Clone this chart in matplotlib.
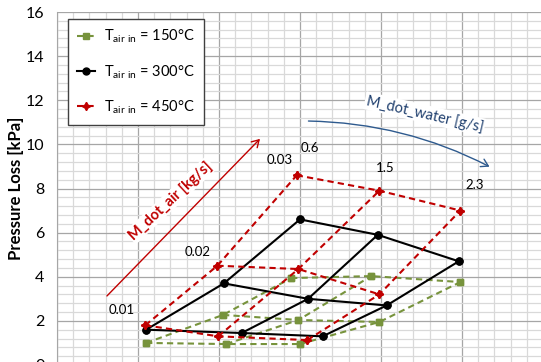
import matplotlib
matplotlib.use("Agg")
import matplotlib.pyplot as plt
from matplotlib.patches import FancyArrowPatch
from matplotlib.lines import Line2D
import numpy as np

plt.rcParams['font.family'] = ['Lato', 'DejaVu Sans']

# carpet data: rows = M_dot_water (0.6, 1.5, 2.3 g/s), cols = M_dot_air (0.01, 0.02, 0.03 kg/s)
water_labels = ["0.6", "1.5", "2.3"]
air_labels = ["0.01", "0.02", "0.03"]

x_150 = [[1.10, 2.05, 2.89], [2.09, 2.98, 3.88], [3.00, 3.98, 4.98]]
y_150 = [[1.00, 2.27, 3.94], [0.95, 2.04, 4.03], [0.95, 1.95, 3.76]]

x_300 = [[1.10, 2.06, 3.00], [2.28, 3.10, 3.96], [3.28, 4.07, 4.96]]
y_300 = [[1.60, 3.70, 6.60], [1.45, 3.00, 5.90], [1.30, 2.70, 4.70]]

x_450 = [[1.09, 1.98, 2.96], [1.99, 2.98, 3.98], [3.09, 3.98, 4.98]]
y_450 = [[1.80, 4.50, 8.60], [1.30, 4.35, 7.90], [1.13, 3.20, 7.00]]

series = [
    (x_150, y_150, r'T$_{\mathregular{air\ in}}$ = 150°C', '#77933C', '--', 's', 5),
    (x_300, y_300, r'T$_{\mathregular{air\ in}}$ = 300°C', '#000000', '-', 'o', 5),
    (x_450, y_450, r'T$_{\mathregular{air\ in}}$ = 450°C', '#C00000', '--', (4, 1, 0), 6),
]

fig = plt.figure(figsize=(5.41, 3.62), dpi=100)
ax = fig.add_axes([57/541, -3/362, 486/541, 353/362])
ax.set_xlim(0, 6)
ax.set_ylim(0, 16)

ax.set_yticks(np.arange(0, 17, 2))
ax.set_yticks(np.arange(0, 16.01, 0.4), minor=True)
ax.set_xticks(np.arange(0, 6.01, 1))
ax.set_xticks(np.arange(0, 6.01, 0.2), minor=True)
ax.grid(which='major', color='#A6A6A6', lw=0.9)
ax.grid(which='minor', color='#D9D9D9', lw=0.9)
ax.set_axisbelow(True)
ax.tick_params(axis='x', which='both', length=0, labelbottom=False)
ax.tick_params(axis='y', which='minor', length=0)
ax.tick_params(axis='y', which='major', length=0, labelsize=11.5, pad=9)
for s in ['top', 'right', 'bottom']:
    ax.spines[s].set_visible(False)
ax.spines['left'].set_color('#A6A6A6')
ax.set_ylabel('Pressure Loss [kPa]', fontsize=12, fontweight='bold', labelpad=1)

handles = []
for xs, ys, lab, col, ls, mk, ms in series:
    xa = np.array(xs); ya = np.array(ys)
    kw = dict(color=col, ls=ls, lw=1.5, marker=mk, ms=ms)
    if ls == '--':
        kw['dashes'] = (3, 2)
    for i in range(3):
        ax.plot(xa[i, :], ya[i, :], **kw)
        ax.plot(xa[:, i], ya[:, i], **kw)
    handles.append(Line2D([0], [0], label=lab, **kw))

leg = ax.legend(handles=handles, loc='upper left', bbox_to_anchor=((68-57)/486, 1 - (19-12)/353),
                fontsize=10.5, frameon=True, fancybox=False, edgecolor='#404040', framealpha=1,
                handlelength=1.25, labelspacing=1.2, borderpad=0.6, handletextpad=0.6,
                borderaxespad=0)
leg.get_frame().set_linewidth(1.0)

# air flow labels
air_pos = [(0.80, 2.49), (1.73, 5.12), (2.75, 9.29)]
for lab, (tx, ty) in zip(air_labels, air_pos):
    ax.text(tx, ty, lab, fontsize=9.5, ha='center', va='center')
water_pos = [(3.12, 9.84), (4.05, 8.93), (5.16, 8.16)]
for lab, (tx, ty) in zip(water_labels, water_pos):
    ax.text(tx, ty, lab, fontsize=9.5, ha='center', va='center')

# red arrow for air
ax.add_patch(FancyArrowPatch((0.593, 3.04), (2.53, 10.34), arrowstyle='->,head_length=5,head_width=3',
                             color='#C00000', lw=1.0, mutation_scale=1))
ax.text(1.40, 7.45, 'M_dot_air [kg/s]', color='#C00000', fontsize=10.5, fontweight='bold',
        rotation=43, ha='center', va='center',
        bbox=dict(facecolor='white', edgecolor='none', pad=1))

# blue curved arrow for water
ax.add_patch(FancyArrowPatch((3.07, 11.06), (5.37, 8.93), arrowstyle='->,head_length=5,head_width=3',
                             connectionstyle='arc3,rad=-0.12', color='#2E5A8E', lw=1.0, mutation_scale=1))
ax.text(4.54, 11.38, 'M_dot_water [g/s]', color='#1F3F6E', fontsize=10.5,
        rotation=-13, ha='center', va='center',
        bbox=dict(facecolor='white', edgecolor='none', pad=1))

fig.savefig('out.png', dpi=100)
